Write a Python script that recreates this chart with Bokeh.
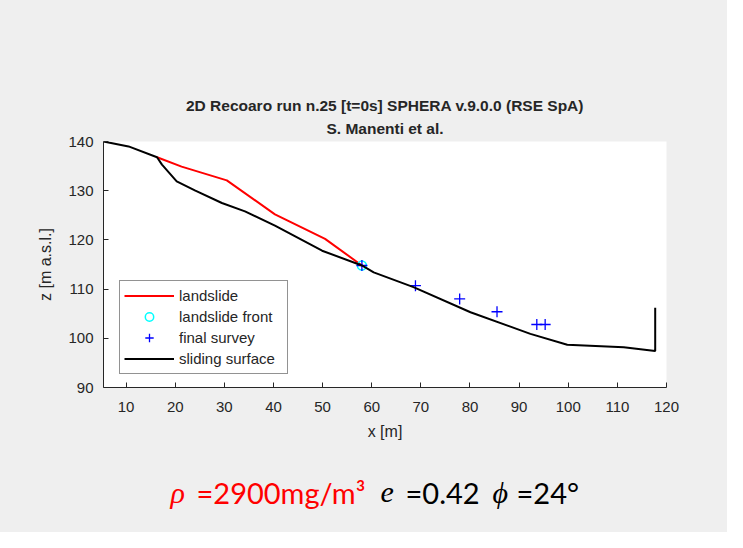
from bokeh.plotting import figure
from bokeh.models import Label, Legend, LegendItem, FixedTicker, Range1d, Title
from bokeh.layouts import column
from bokeh.embed import file_html
from bokeh.resources import INLINE

# ---- data ----
surface_x = [5.4, 10.5, 16.3, 17.3, 20.3, 24.1, 29.5, 34.2, 40.3, 49.9, 58.0, 60.4, 68.5, 80.1, 92.3, 99.8, 111.3, 117.7, 117.7]
surface_z = [140.0, 139.0, 136.8, 135.3, 131.9, 130.0, 127.5, 125.8, 122.9, 117.8, 114.8, 113.4, 110.4, 105.3, 100.9, 98.7, 98.2, 97.4, 106.2]
slide_x = [16.3, 21.3, 30.5, 40.3, 50.5, 58.0]
slide_z = [136.8, 134.9, 132.1, 125.2, 120.2, 114.8]
front_x = [58.0]
front_z = [114.8]
survey_x = [58.0, 68.9, 77.9, 85.5, 93.6, 95.3]
survey_z = [114.8, 110.7, 108.0, 105.4, 102.8, 102.8]
x_ticks = [10, 20, 30, 40, 50, 60, 70, 80, 90, 100, 110, 120]
z_ticks = [90, 100, 110, 120, 130, 140]
title_main = "2D Recoaro run n.25 [t=0s] SPHERA v.9.0.0 (RSE SpA)"
title_sub = "S. Manenti et al."
params = [("\u03c1", "=2900mg/m\u00b3", "red"), ("e", "=0.42", "black"), ("\u03d5", "=24\u00b0", "black")]

BG = "#efefef"
INK = "#262626"
FONT = "Liberation Sans"

p = figure(width=727, height=460, output_backend="svg", toolbar_location=None,
           x_range=Range1d(5.4, 120), y_range=Range1d(90, 140),
           min_border_left=103, min_border_right=61, min_border_top=141, min_border_bottom=73)
p.frame_align = False
p.background_fill_color = "white"
p.border_fill_color = BG
p.outline_line_color = None
p.grid.visible = False

for ax in (p.xaxis[0], p.yaxis[0]):
    ax.axis_line_color = INK
    ax.major_tick_line_color = INK
    ax.major_tick_in = 5
    ax.major_tick_out = 0
    ax.minor_tick_line_color = None
    ax.major_label_text_color = INK
    ax.major_label_text_font = FONT
    ax.major_label_text_font_size = "15px"
    ax.axis_label_text_font = FONT
    ax.axis_label_text_font_size = "16px"
    ax.axis_label_text_font_style = "normal"
    ax.axis_label_text_color = INK
p.xaxis.ticker = FixedTicker(ticks=x_ticks)
p.yaxis.ticker = FixedTicker(ticks=z_ticks)
p.xaxis.axis_label = "x [m]"
p.yaxis.axis_label = "z [m a.s.l.]"
p.xaxis.major_label_standoff = 14
p.yaxis.major_label_standoff = 10
p.xaxis.axis_label_standoff = 8
p.yaxis.axis_label_standoff = 11

r_slide = p.line(slide_x, slide_z, line_color="red", line_width=2)
r_front = p.scatter(front_x, front_z, marker="circle", size=9, fill_color=None, line_color="cyan", line_width=1.5)
r_survey = p.scatter(survey_x, survey_z, marker="cross", size=11, line_color="blue", line_width=1.3)
r_surf = p.line(surface_x, surface_z, line_color="black", line_width=2)

legend = Legend(items=[
    LegendItem(label="landslide", renderers=[r_slide]),
    LegendItem(label="landslide front", renderers=[r_front]),
    LegendItem(label="final survey", renderers=[r_survey]),
    LegendItem(label="sliding surface", renderers=[r_surf]),
], location=(16, 13))
legend.border_line_color = INK
legend.border_line_width = 1
legend.background_fill_color = "white"
legend.background_fill_alpha = 1
legend.label_text_font = FONT
legend.label_text_font_size = "15px"
legend.label_text_color = INK
legend.glyph_width = 50
legend.glyph_height = 21
legend.label_height = 21
legend.label_width = 104
legend.spacing = 0
legend.padding = 4
legend.margin = 0
legend.label_standoff = 5
p.add_layout(legend, "center")

# titles (first added sits closest to the plot)
p.add_layout(Title(text=title_sub, align="center", text_font=FONT, text_font_size="15.5px",
                   text_font_style="bold", text_color=INK, text_line_height=0.9, standoff=9), "above")
p.add_layout(Title(text=title_main, align="center", text_font=FONT, text_font_size="15.5px",
                   text_font_style="bold", text_color=INK, text_line_height=0.9, standoff=0), "above")

# bottom strip with the material parameters
b = figure(width=727, height=72, output_backend="svg", toolbar_location=None,
           x_range=Range1d(0, 727), y_range=Range1d(0, 72),
           min_border_left=0, min_border_right=0, min_border_top=0, min_border_bottom=0)
b.frame_align = False
b.axis.visible = False
b.grid.visible = False
b.outline_line_color = None
b.background_fill_color = BG
b.border_fill_color = BG

sym_x = [170, 380, 492]
val_x = [196, 405, 516]
for (sym, val, col), sx, vx in zip(params, sym_x, val_x):
    b.add_layout(Label(x=sx, y=40, x_units="screen", y_units="screen", text=sym,
                       text_font="Liberation Serif", text_font_size="30px", text_font_style="italic",
                       text_color=col, text_align="left", text_baseline="alphabetic"))
    b.add_layout(Label(x=vx, y=40, x_units="screen", y_units="screen", text=val,
                       text_font="Lato", text_font_size="29px", text_font_style="normal",
                       text_color=col, text_align="left", text_baseline="alphabetic"))

layout = column(p, b, spacing=0, styles={"background-color": BG})
open("out.html", "w").write(file_html(layout, INLINE))
